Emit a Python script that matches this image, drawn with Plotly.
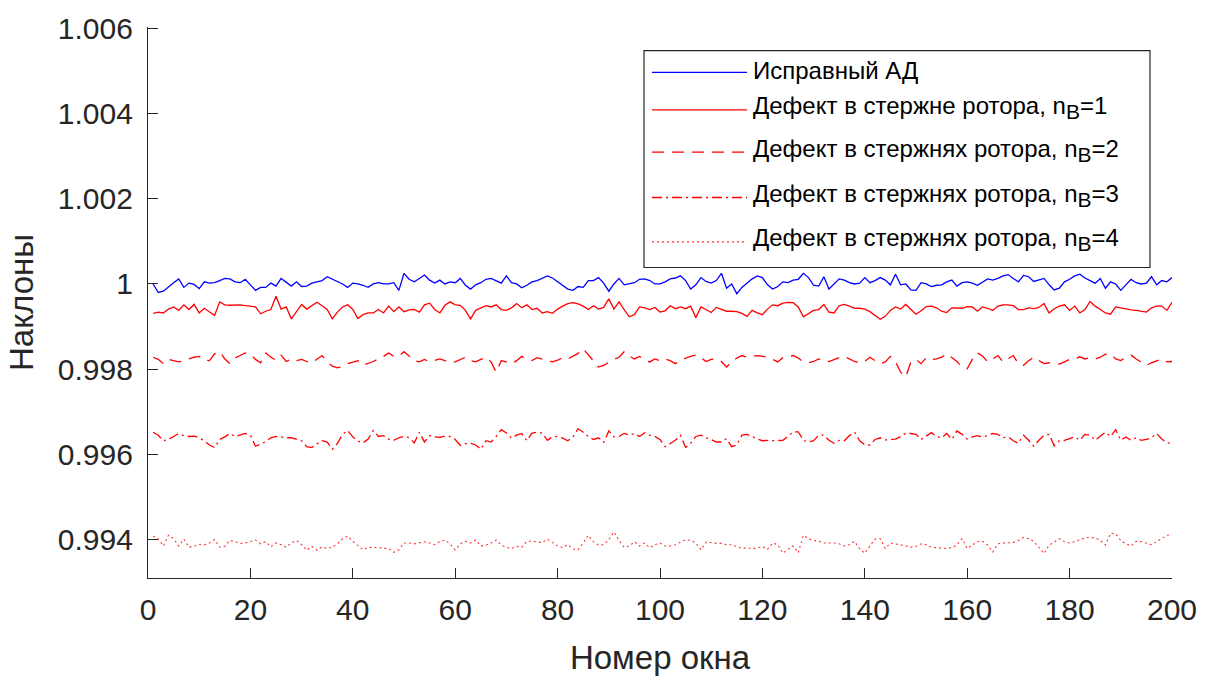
import plotly.graph_objects as go

# Window numbers
window = list(range(1, 201))

healthy = [
    1.00000, 0.99980, 0.99983, 0.99994, 1.00003, 1.00012, 0.99992, 1.00002, 0.99999, 0.99989,
    1.00005, 1.00002, 1.00003, 1.00008, 1.00013, 1.00012, 1.00005, 1.00003, 1.00011, 0.99998,
    0.99985, 0.99992, 0.99992, 1.00002, 0.99995, 1.00013, 1.00005, 0.99995, 1.00005, 0.99994,
    0.99995, 1.00002, 1.00005, 1.00008, 1.00017, 1.00011, 1.00005, 1.00000, 0.99992, 1.00002,
    1.00000, 0.99997, 0.99992, 1.00000, 1.00003, 1.00000, 1.00000, 1.00003, 0.99985, 1.00025,
    1.00011, 1.00005, 1.00013, 1.00021, 1.00009, 1.00002, 1.00009, 1.00000, 1.00005, 1.00003,
    1.00013, 0.99997, 0.99988, 0.99998, 1.00003, 1.00011, 1.00013, 1.00008, 1.00002, 1.00019,
    1.00003, 1.00000, 0.99991, 0.99997, 1.00005, 1.00008, 1.00013, 1.00019, 1.00014, 1.00005,
    0.99998, 0.99988, 0.99985, 0.99994, 0.99992, 1.00008, 1.00008, 1.00015, 1.00002, 0.99983,
    1.00000, 1.00013, 0.99998, 1.00000, 1.00003, 1.00011, 1.00012, 1.00008, 1.00000, 1.00000,
    1.00005, 1.00012, 1.00014, 1.00019, 1.00008, 0.99988, 0.99998, 1.00015, 1.00006, 1.00002,
    1.00008, 1.00025, 0.99990, 1.00000, 0.99977, 0.99992, 1.00003, 1.00012, 1.00019, 1.00015,
    0.99998, 0.99988, 0.99994, 1.00005, 1.00003, 1.00009, 1.00011, 1.00025, 1.00015, 0.99997,
    0.99995, 1.00017, 0.99988, 1.00000, 1.00012, 1.00009, 1.00003, 1.00000, 1.00002, 1.00015,
    1.00003, 1.00008, 1.00015, 1.00009, 0.99998, 1.00023, 0.99998, 1.00000, 0.99986, 0.99985,
    1.00003, 1.00000, 0.99994, 0.99997, 0.99998, 1.00005, 1.00009, 0.99995, 1.00003, 1.00005,
    1.00002, 0.99997, 1.00005, 1.00012, 1.00009, 1.00013, 1.00019, 1.00022, 1.00013, 1.00005,
    1.00020, 1.00017, 1.00006, 1.00009, 1.00013, 0.99998, 0.99986, 0.99990, 1.00005, 1.00011,
    1.00019, 1.00023, 1.00014, 1.00008, 1.00002, 1.00013, 0.99990, 1.00005, 1.00000, 0.99985,
    0.99997, 1.00011, 1.00003, 1.00000, 1.00002, 1.00017, 0.99998, 1.00008, 1.00005, 1.00015,
]

bars_1 = [
    0.99931, 0.99934, 0.99932, 0.99941, 0.99946, 0.99938, 0.99951, 0.99940, 0.99952, 0.99932,
    0.99943, 0.99935, 0.99926, 0.99958, 0.99951, 0.99950, 0.99950, 0.99951, 0.99949, 0.99948,
    0.99946, 0.99930, 0.99936, 0.99940, 0.99971, 0.99941, 0.99946, 0.99918, 0.99936, 0.99952,
    0.99941, 0.99949, 0.99957, 0.99949, 0.99940, 0.99918, 0.99934, 0.99946, 0.99951, 0.99940,
    0.99919, 0.99928, 0.99932, 0.99932, 0.99940, 0.99932, 0.99948, 0.99935, 0.99946, 0.99935,
    0.99939, 0.99940, 0.99934, 0.99951, 0.99955, 0.99940, 0.99932, 0.99950, 0.99958, 0.99951,
    0.99950, 0.99938, 0.99918, 0.99938, 0.99943, 0.99949, 0.99946, 0.99951, 0.99940, 0.99938,
    0.99944, 0.99954, 0.99944, 0.99951, 0.99940, 0.99943, 0.99932, 0.99935, 0.99931, 0.99941,
    0.99948, 0.99954, 0.99956, 0.99953, 0.99948, 0.99940, 0.99949, 0.99941, 0.99945, 0.99965,
    0.99941, 0.99958, 0.99940, 0.99923, 0.99928, 0.99946, 0.99944, 0.99940, 0.99945, 0.99934,
    0.99937, 0.99949, 0.99942, 0.99946, 0.99942, 0.99948, 0.99921, 0.99946, 0.99940, 0.99933,
    0.99945, 0.99940, 0.99936, 0.99936, 0.99935, 0.99931, 0.99924, 0.99938, 0.99932, 0.99928,
    0.99941, 0.99951, 0.99949, 0.99955, 0.99957, 0.99956, 0.99946, 0.99923, 0.99931, 0.99938,
    0.99940, 0.99952, 0.99934, 0.99932, 0.99949, 0.99952, 0.99948, 0.99943, 0.99943, 0.99941,
    0.99935, 0.99926, 0.99917, 0.99924, 0.99938, 0.99946, 0.99941, 0.99952, 0.99941, 0.99929,
    0.99937, 0.99947, 0.99948, 0.99944, 0.99936, 0.99933, 0.99944, 0.99944, 0.99943, 0.99947,
    0.99946, 0.99936, 0.99946, 0.99943, 0.99938, 0.99948, 0.99951, 0.99951, 0.99949, 0.99940,
    0.99940, 0.99944, 0.99942, 0.99945, 0.99954, 0.99932, 0.99942, 0.99948, 0.99951, 0.99938,
    0.99948, 0.99932, 0.99940, 0.99959, 0.99948, 0.99940, 0.99932, 0.99929, 0.99946, 0.99944,
    0.99941, 0.99939, 0.99938, 0.99936, 0.99934, 0.99944, 0.99948, 0.99948, 0.99938, 0.99957,
]

bars_2 = [
    0.99828, 0.99823, 0.99813, 0.99823, 0.99820, 0.99817, 0.99820, 0.99824, 0.99828, 0.99830,
    0.99821, 0.99820, 0.99836, 0.99841, 0.99824, 0.99813, 0.99826, 0.99832, 0.99838, 0.99835,
    0.99823, 0.99815, 0.99838, 0.99828, 0.99821, 0.99833, 0.99818, 0.99824, 0.99820, 0.99823,
    0.99818, 0.99815, 0.99823, 0.99832, 0.99817, 0.99807, 0.99803, 0.99807, 0.99813, 0.99817,
    0.99820, 0.99809, 0.99813, 0.99818, 0.99824, 0.99830, 0.99838, 0.99830, 0.99830, 0.99841,
    0.99831, 0.99820, 0.99817, 0.99823, 0.99817, 0.99820, 0.99824, 0.99820, 0.99815, 0.99817,
    0.99823, 0.99828, 0.99820, 0.99817, 0.99823, 0.99828, 0.99817, 0.99793, 0.99820, 0.99817,
    0.99813, 0.99820, 0.99830, 0.99824, 0.99820, 0.99827, 0.99824, 0.99820, 0.99817, 0.99821,
    0.99827, 0.99824, 0.99830, 0.99837, 0.99848, 0.99833, 0.99820, 0.99805, 0.99809, 0.99817,
    0.99823, 0.99828, 0.99841, 0.99831, 0.99824, 0.99830, 0.99821, 0.99817, 0.99824, 0.99820,
    0.99824, 0.99820, 0.99813, 0.99820, 0.99826, 0.99830, 0.99833, 0.99827, 0.99818, 0.99823,
    0.99824, 0.99818, 0.99805, 0.99817, 0.99826, 0.99832, 0.99828, 0.99830, 0.99832, 0.99830,
    0.99828, 0.99823, 0.99817, 0.99827, 0.99830, 0.99832, 0.99826, 0.99817, 0.99815, 0.99818,
    0.99824, 0.99820, 0.99818, 0.99823, 0.99827, 0.99830, 0.99824, 0.99818, 0.99815, 0.99818,
    0.99828, 0.99820, 0.99813, 0.99817, 0.99830, 0.99817, 0.99793, 0.99782, 0.99817, 0.99823,
    0.99813, 0.99827, 0.99823, 0.99824, 0.99828, 0.99836, 0.99828, 0.99818, 0.99805, 0.99801,
    0.99823, 0.99838, 0.99831, 0.99817, 0.99824, 0.99832, 0.99817, 0.99824, 0.99832, 0.99813,
    0.99809, 0.99820, 0.99828, 0.99820, 0.99813, 0.99815, 0.99813, 0.99812, 0.99817, 0.99823,
    0.99824, 0.99829, 0.99824, 0.99827, 0.99824, 0.99828, 0.99835, 0.99836, 0.99824, 0.99820,
    0.99828, 0.99833, 0.99824, 0.99817, 0.99809, 0.99815, 0.99820, 0.99824, 0.99817, 0.99818,
]

bars_3 = [
    0.99652, 0.99645, 0.99632, 0.99635, 0.99642, 0.99649, 0.99644, 0.99642, 0.99643, 0.99639,
    0.99632, 0.99622, 0.99616, 0.99635, 0.99641, 0.99649, 0.99642, 0.99645, 0.99649, 0.99645,
    0.99619, 0.99624, 0.99630, 0.99639, 0.99642, 0.99641, 0.99639, 0.99639, 0.99636, 0.99632,
    0.99618, 0.99616, 0.99625, 0.99632, 0.99629, 0.99612, 0.99626, 0.99647, 0.99656, 0.99641,
    0.99631, 0.99627, 0.99636, 0.99656, 0.99642, 0.99644, 0.99636, 0.99633, 0.99639, 0.99642,
    0.99639, 0.99627, 0.99652, 0.99629, 0.99644, 0.99641, 0.99640, 0.99643, 0.99642, 0.99635,
    0.99621, 0.99625, 0.99626, 0.99622, 0.99612, 0.99632, 0.99629, 0.99642, 0.99658, 0.99650,
    0.99638, 0.99645, 0.99649, 0.99632, 0.99650, 0.99652, 0.99650, 0.99633, 0.99641, 0.99642,
    0.99638, 0.99632, 0.99641, 0.99660, 0.99652, 0.99642, 0.99635, 0.99639, 0.99628, 0.99655,
    0.99641, 0.99642, 0.99649, 0.99645, 0.99649, 0.99642, 0.99651, 0.99645, 0.99642, 0.99635,
    0.99618, 0.99626, 0.99633, 0.99645, 0.99616, 0.99626, 0.99642, 0.99645, 0.99639, 0.99635,
    0.99629, 0.99629, 0.99637, 0.99618, 0.99622, 0.99645, 0.99647, 0.99642, 0.99636, 0.99632,
    0.99633, 0.99632, 0.99632, 0.99633, 0.99642, 0.99653, 0.99653, 0.99633, 0.99629, 0.99632,
    0.99645, 0.99645, 0.99633, 0.99626, 0.99633, 0.99632, 0.99644, 0.99652, 0.99632, 0.99622,
    0.99622, 0.99635, 0.99639, 0.99634, 0.99635, 0.99636, 0.99642, 0.99650, 0.99649, 0.99647,
    0.99635, 0.99644, 0.99651, 0.99642, 0.99639, 0.99649, 0.99635, 0.99655, 0.99647, 0.99636,
    0.99641, 0.99644, 0.99641, 0.99644, 0.99649, 0.99647, 0.99639, 0.99641, 0.99632, 0.99626,
    0.99645, 0.99633, 0.99619, 0.99633, 0.99645, 0.99647, 0.99620, 0.99632, 0.99633, 0.99637,
    0.99641, 0.99633, 0.99647, 0.99645, 0.99633, 0.99643, 0.99652, 0.99642, 0.99658, 0.99633,
    0.99641, 0.99633, 0.99639, 0.99633, 0.99635, 0.99639, 0.99649, 0.99636, 0.99627, 0.99626,
]

bars_4 = [
    0.99408, 0.99402, 0.99385, 0.99410, 0.99402, 0.99385, 0.99401, 0.99382, 0.99385, 0.99388,
    0.99388, 0.99392, 0.99400, 0.99382, 0.99384, 0.99398, 0.99395, 0.99391, 0.99392, 0.99395,
    0.99399, 0.99390, 0.99395, 0.99383, 0.99392, 0.99388, 0.99382, 0.99392, 0.99398, 0.99388,
    0.99375, 0.99384, 0.99375, 0.99383, 0.99379, 0.99382, 0.99390, 0.99402, 0.99408, 0.99396,
    0.99385, 0.99376, 0.99382, 0.99382, 0.99381, 0.99380, 0.99379, 0.99370, 0.99376, 0.99392,
    0.99392, 0.99390, 0.99392, 0.99395, 0.99392, 0.99388, 0.99395, 0.99399, 0.99390, 0.99376,
    0.99390, 0.99396, 0.99392, 0.99399, 0.99385, 0.99387, 0.99392, 0.99399, 0.99387, 0.99382,
    0.99379, 0.99384, 0.99382, 0.99396, 0.99396, 0.99395, 0.99393, 0.99401, 0.99392, 0.99385,
    0.99381, 0.99388, 0.99378, 0.99376, 0.99392, 0.99410, 0.99395, 0.99387, 0.99388, 0.99400,
    0.99418, 0.99398, 0.99382, 0.99385, 0.99395, 0.99385, 0.99392, 0.99381, 0.99388, 0.99392,
    0.99385, 0.99385, 0.99388, 0.99395, 0.99400, 0.99398, 0.99392, 0.99376, 0.99394, 0.99393,
    0.99391, 0.99391, 0.99388, 0.99388, 0.99384, 0.99379, 0.99381, 0.99378, 0.99381, 0.99384,
    0.99377, 0.99392, 0.99388, 0.99368, 0.99377, 0.99385, 0.99369, 0.99410, 0.99402, 0.99398,
    0.99396, 0.99392, 0.99392, 0.99392, 0.99390, 0.99385, 0.99388, 0.99396, 0.99378, 0.99368,
    0.99385, 0.99401, 0.99402, 0.99379, 0.99392, 0.99390, 0.99388, 0.99385, 0.99382, 0.99384,
    0.99390, 0.99388, 0.99382, 0.99381, 0.99381, 0.99379, 0.99381, 0.99387, 0.99402, 0.99379,
    0.99387, 0.99395, 0.99396, 0.99387, 0.99371, 0.99390, 0.99392, 0.99392, 0.99393, 0.99398,
    0.99405, 0.99402, 0.99396, 0.99382, 0.99367, 0.99387, 0.99395, 0.99402, 0.99395, 0.99392,
    0.99395, 0.99399, 0.99404, 0.99405, 0.99404, 0.99398, 0.99387, 0.99415, 0.99413, 0.99398,
    0.99390, 0.99385, 0.99396, 0.99395, 0.99392, 0.99388, 0.99395, 0.99402, 0.99410, 0.99412,
]

legend_labels = [
    "Исправный АД",
    "Дефект в стержне ротора, n<sub><span style='font-size:21px'>B</span></sub>=1",
    "Дефект в стержнях ротора, n<sub><span style='font-size:21px'>B</span></sub>=2",
    "Дефект в стержнях ротора, n<sub><span style='font-size:21px'>B</span></sub>=3",
    "Дефект в стержнях ротора, n<sub><span style='font-size:21px'>B</span></sub>=4",
]

y_ticks = [0.994, 0.996, 0.998, 1.0, 1.002, 1.004, 1.006]
y_tick_text = ["0.994", "0.996", "0.998", "1", "1.002", "1.004", "1.006"]
x_ticks = [0, 20, 40, 60, 80, 100, 120, 140, 160, 180, 200]

BLUE = "#0000FF"
RED = "#FF0000"
AXIS = "#262626"
FONT = "Liberation Sans, Arial, Helvetica, sans-serif"

styles = [
    dict(color=BLUE, width=1.3, dash="solid"),
    dict(color=RED, width=1.3, dash="solid"),
    dict(color=RED, width=1.3, dash="12px,8px"),
    dict(color=RED, width=1.3, dash="10px,4px,2px,4px"),
    dict(color="#FF3030", width=1.1, dash="2px,3px"),
]
series = [healthy, bars_1, bars_2, bars_3, bars_4]

fig = go.Figure()
for vals, st, name in zip(series, styles, legend_labels):
    fig.add_trace(go.Scatter(x=window, y=vals, mode="lines", name=name,
                             line=st, showlegend=False, hoverinfo="skip"))

W, H = 1213, 681
L, R, T, B = 148, 41, 20, 102
pw, ph = W - L - R, H - T - B


def px(x):
    return (x - L) / pw


def py(y):
    return (H - B - y) / ph


# Legend box drawn in figure pixels
shapes = [dict(type="rect", xref="paper", yref="paper",
               x0=px(644), x1=px(1150), y0=py(264), y1=py(44),
               line=dict(color=AXIS, width=1.2), fillcolor="white", layer="above")]
row_y = [66, 104, 147, 193, 238]
annotations = []
for st, name, ry in zip(styles, legend_labels, row_y):
    shapes.append(dict(type="line", xref="paper", yref="paper",
                       x0=px(652), x1=px(747), y0=py(ry), y1=py(ry),
                       line=dict(color=st["color"], width=st["width"], dash=st["dash"]),
                       layer="above"))
    annotations.append(dict(xref="paper", yref="paper", x=px(751), y=py(ry - 2),
                            xanchor="left", yanchor="middle", showarrow=False,
                            text=name, font=dict(family=FONT, size=24, color="#000000")))

fig.update_layout(
    width=W, height=H,
    margin=dict(l=L, r=R, t=T, b=B),
    paper_bgcolor="white", plot_bgcolor="white",
    font=dict(family=FONT, color=AXIS),
    shapes=shapes, annotations=annotations,
    xaxis=dict(range=[0, 200], tickvals=x_ticks, ticks="inside", ticklen=10,
               tickcolor=AXIS, tickwidth=1, showline=True, linecolor=AXIS, linewidth=1.2,
               showgrid=False, zeroline=False, tickfont=dict(size=30, color=AXIS),
               ticklabelstandoff=5,
               title=dict(text="Номер окна", font=dict(size=33, color=AXIS), standoff=20)),
    yaxis=dict(range=[0.993098, 1.006032], tickvals=y_ticks, ticktext=y_tick_text,
               ticks="inside", ticklen=10, tickcolor=AXIS, tickwidth=1,
               showline=True, linecolor=AXIS, linewidth=1.2,
               showgrid=False, zeroline=False, tickfont=dict(size=30, color=AXIS),
               ticklabelstandoff=8,
               title=dict(text="Наклоны", font=dict(size=33, color=AXIS), standoff=14)),
)

fig.write_html("out.html")
